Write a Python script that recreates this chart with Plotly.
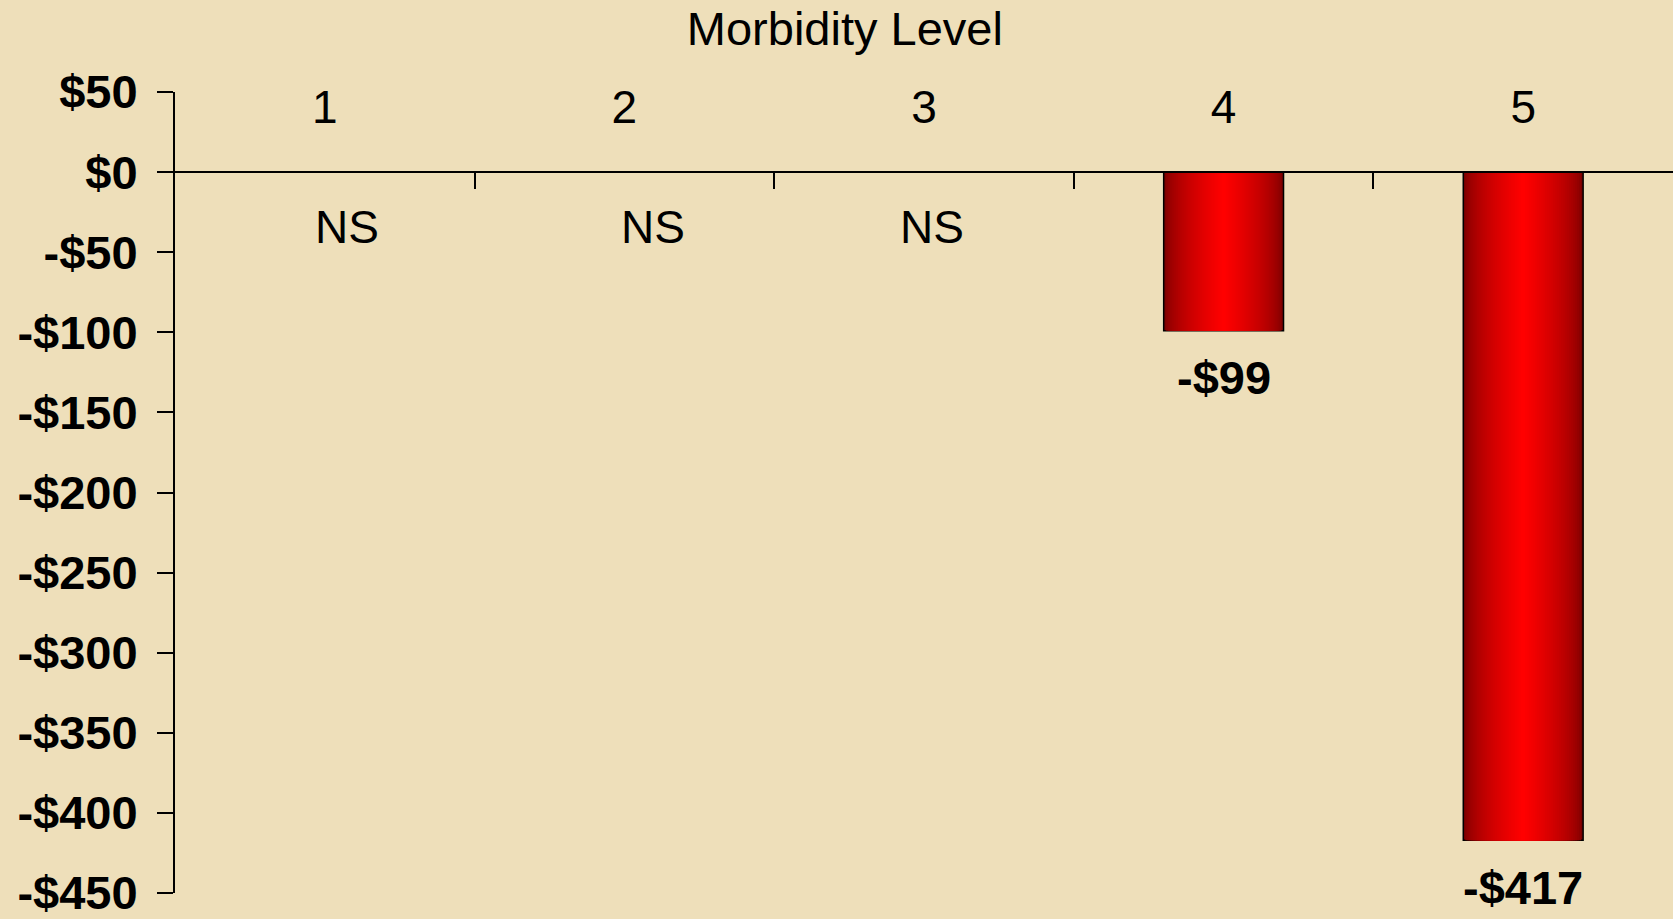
import plotly.graph_objects as go

# ---- data ----
categories = ["1", "2", "3", "4", "5"]
values = [None, None, None, -99, -417]
bar_labels = ["", "", "", "-$99", "-$417"]
ns_labels = ["NS", "NS", "NS", "", ""]
ns_xshift = [22, 29, 8, 0, 0]
y_tickvals = [50, 0, -50, -100, -150, -200, -250, -300, -350, -400, -450]
y_ticktext = ["$50", "$0", "-$50", "-$100", "-$150", "-$200", "-$250",
              "-$300", "-$350", "-$400", "-$450"]
axis_title = "Morbidity Level"

FONT = "Arial, Liberation Sans, sans-serif"
BG = "#EEDFBA"

fig = go.Figure()

# gradient bars: concentric overlaid bars, dark edges -> bright centre
N = 30
dark = (120, 0, 0)
bright = (255, 0, 0)
full_w = 0.4
for i in range(N):
    t = (i / (N - 1)) ** 0.6
    c = tuple(int(round(dark[k] + (bright[k] - dark[k]) * t)) for k in range(3))
    w = full_w * (1 - i / N)
    fig.add_trace(go.Bar(
        x=categories, y=values, width=w,
        marker=dict(color="rgb(%d,%d,%d)" % c,
                    line=dict(color="black", width=1.5 if i == 0 else 0)),
        showlegend=False, hoverinfo="skip",
    ))

# value labels below bars (category index positions)
for idx, (v, lab) in enumerate(zip(values, bar_labels)):
    if v is not None and lab:
        fig.add_annotation(x=idx, y=v, text="<b>%s</b>" % lab, showarrow=False,
                           yanchor="middle", yshift=-47,
                           font=dict(family=FONT, size=47, color="black"))

# NS labels
for idx, (lab, xs) in enumerate(zip(ns_labels, ns_xshift)):
    if lab:
        fig.add_annotation(x=idx, y=0, text=lab, showarrow=False,
                           yanchor="middle", yshift=-55, xshift=xs,
                           font=dict(family=FONT, size=46, color="black"))

fig.update_layout(
    width=1673, height=919,
    margin=dict(l=175, r=0, t=92, b=20),
    paper_bgcolor=BG, plot_bgcolor="rgba(0,0,0,0)",
    barmode="overlay",
    title=dict(text=axis_title, x=0.505, xref="container", xanchor="center",
               y=1 - 29 / 919, yref="container", yanchor="middle",
               font=dict(family=FONT, size=47, color="black")),
    xaxis=dict(type="category", anchor="free", position=0.9, side="top",
               showline=True, linecolor="black", linewidth=2,
               ticks="inside", tickson="boundaries", ticklen=16, tickwidth=2,
               tickcolor="black", showgrid=False, zeroline=False,
               tickfont=dict(family=FONT, size=46, color="black"),
               ticklabelstandoff=30, range=[-0.5, 4.5]),
    yaxis=dict(range=[-450, 50], tickvals=y_tickvals,
               ticktext=["<b>%s</b>" % t for t in y_ticktext],
               showline=True, linecolor="black", linewidth=2,
               ticks="outside", ticklen=16, tickwidth=2, tickcolor="black",
               showgrid=False, zeroline=False, ticklabeloverflow="allow",
               tickfont=dict(family=FONT, size=47, color="black"),
               ticklabelstandoff=10),
)

fig.write_html("out.html",
               config={"displayModeBar": False},
               post_script="document.body.style.margin='0px';"
                           "document.body.style.overflow='hidden';")
